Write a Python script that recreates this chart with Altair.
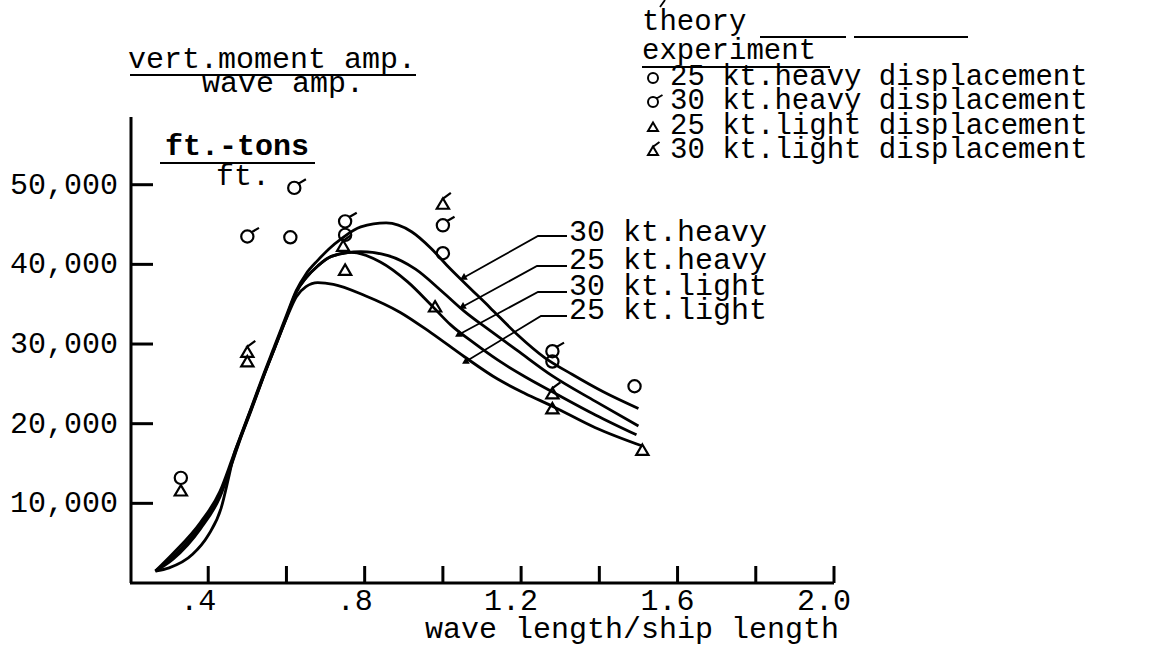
import altair as alt
import pandas as pd

# ---------------- data ----------------
# theory curves (wave length / ship length, vert. moment amp / wave amp in ft.-tons/ft.)
c30h_x = [0.265, 0.31, 0.38, 0.43, 0.46, 0.48, 0.51, 0.54, 0.57, 0.60, 0.625, 0.65, 0.68, 0.71, 0.74, 0.79, 0.855, 0.92, 0.97, 1.01, 1.055, 1.12, 1.19, 1.26, 1.33, 1.41, 1.50]
c30h_y = [1500, 3700, 7600, 11500, 15400, 18100, 22000, 26000, 29800, 33600, 36700, 38800, 40500, 42000, 43200, 44700, 45200, 44100, 42000, 39900, 37700, 34600, 31200, 28300, 26200, 24000, 21900]

c25h_x = [0.265, 0.31, 0.38, 0.43, 0.46, 0.48, 0.51, 0.54, 0.57, 0.60, 0.625, 0.65, 0.68, 0.715, 0.79, 0.86, 0.93, 1.0, 1.055, 1.12, 1.19, 1.28, 1.39, 1.50]
c25h_y = [1500, 3300, 7200, 11200, 15100, 17900, 21800, 25800, 29600, 33400, 36500, 38300, 39800, 41000, 41600, 41100, 39400, 36500, 34100, 31700, 29200, 26000, 22800, 19700]

c30l_x = [0.265, 0.31, 0.38, 0.43, 0.46, 0.48, 0.51, 0.54, 0.57, 0.60, 0.625, 0.65, 0.68, 0.715, 0.766, 0.84, 0.91, 0.97, 1.02, 1.08, 1.14, 1.21, 1.28, 1.39, 1.495]
c30l_y = [1500, 3000, 6800, 10800, 14900, 17800, 21700, 25700, 29500, 33300, 36500, 38300, 39800, 41000, 41500, 40300, 37800, 34900, 32400, 30100, 28000, 25900, 24000, 21100, 18600]

c25l_x = [0.265, 0.30, 0.36, 0.40, 0.433, 0.452, 0.465, 0.48, 0.51, 0.54, 0.57, 0.60, 0.625, 0.65, 0.68, 0.72, 0.80, 0.89, 0.97, 1.055, 1.14, 1.21, 1.28, 1.39, 1.51]
c25l_y = [1500, 1900, 3600, 6000, 9400, 13200, 16000, 18000, 21900, 25800, 29500, 33200, 35900, 37200, 37700, 37500, 36100, 34000, 31400, 28400, 25600, 23800, 22200, 19500, 17200]

theory_names = ["30 kt.heavy", "25 kt.heavy", "30 kt.light", "25 kt.light"]

# experiment points
e25h_x = [0.33, 0.61, 0.75, 1.0, 1.28, 1.49]
e25h_y = [13200, 43400, 43700, 41400, 27800, 24700]
e30h_x = [0.50, 0.62, 0.75, 1.0, 1.28]
e30h_y = [43500, 49600, 45400, 44900, 29100]
e25l_x = [0.33, 0.50, 0.75, 0.98, 1.28, 1.51]
e25l_y = [11600, 27800, 39300, 34700, 21900, 16700]
e30l_x = [0.50, 0.745, 1.0, 1.28]
e30l_y = [29000, 42300, 47600, 23800]

exp_names = ["25 kt.heavy displacement", "30 kt.heavy displacement",
             "25 kt.light displacement", "30 kt.light displacement"]

# axes
x_ticks = [0.4, 0.6, 0.8, 1.0, 1.2, 1.4, 1.6, 1.8, 2.0]
x_label_vals = [0.4, 0.8, 1.2, 1.6, 2.0]
x_label_text = [".4", ".8", "1.2", "1.6", "2.0"]
y_ticks = [10000, 20000, 30000, 40000, 50000]
y_label_text = ["10,000", "20,000", "30,000", "40,000", "50,000"]

# ---------------- layout ----------------
W, H = 704, 466
FONT = "Liberation Mono"
FS = 30
xs = alt.Scale(domain=[0.2, 2.0], nice=False, zero=False)
ys = alt.Scale(domain=[0, 58500], nice=False, zero=False)

SIGMA = "M-1,0A1,1,0,1,0,1,0A1,1,0,1,0,-1,0M0.7,-0.7L1.9,-1.4"
TRI = "M0,-0.9L1,0.8L-1,0.8Z"
TRI_TAIL = "M0,-0.9L1,0.8L-1,0.8ZM-0.2,-0.7L1.3,-1.8"
shape_scale = alt.Scale(domain=exp_names, range=["circle", SIGMA, TRI, TRI_TAIL])

rows = []
for name, cx, cy in zip(theory_names, [c30h_x, c25h_x, c30l_x, c25l_x], [c30h_y, c25h_y, c30l_y, c25l_y]):
    for i, (a, b) in enumerate(zip(cx, cy)):
        rows.append({"series": name, "x": a, "y": b, "o": i})
curves_df = pd.DataFrame(rows)

prow = []
for name, ex, ey in zip(exp_names, [e25h_x, e30h_x, e25l_x, e30l_x], [e25h_y, e30h_y, e25l_y, e30l_y]):
    for a, b in zip(ex, ey):
        prow.append({"series": name, "x": a, "y": b})
exp_df = pd.DataFrame(prow)

curves = alt.Chart(curves_df).mark_line(interpolate="monotone", color="black", strokeWidth=2.8).encode(
    x=alt.X("x:Q", scale=xs, axis=None),
    y=alt.Y("y:Q", scale=ys, axis=None),
    detail="series:N",
    order="o:Q",
)

points = alt.Chart(exp_df).mark_point(filled=False, color="black", strokeWidth=2.2, size=150, opacity=1).encode(
    x=alt.X("x:Q", scale=xs, axis=None),
    y=alt.Y("y:Q", scale=ys, axis=None),
    shape=alt.Shape("series:N", scale=shape_scale, legend=None),
)

# axis lines
yaxis_line = alt.Chart().mark_rule(color="black", strokeWidth=3).encode(
    x=alt.value(1), y=alt.value(0), y2=alt.value(H))
xaxis_line = alt.Chart().mark_rule(color="black", strokeWidth=3).encode(
    x=alt.value(0), x2=alt.value(W), y=alt.value(H))

xt = alt.Chart(pd.DataFrame({"x": x_ticks})).mark_rule(color="black", strokeWidth=3).encode(
    x=alt.X("x:Q", scale=xs, axis=None), y=alt.value(H - 17), y2=alt.value(H))
xl = alt.Chart(pd.DataFrame({"x": x_label_vals, "t": x_label_text})).mark_text(
    font=FONT, fontSize=FS, align="center", baseline="alphabetic", dx=-10, color="black").encode(
    x=alt.X("x:Q", scale=xs, axis=None), y=alt.value(H + 27), text="t:N")
x_title = alt.Chart().mark_text(font=FONT, fontSize=FS, align="center", baseline="alphabetic",
                                color="black", text="wave length/ship length").encode(
    x=alt.value(502), y=alt.value(H + 55))

yt = alt.Chart(pd.DataFrame({"y": y_ticks})).mark_rule(color="black", strokeWidth=3).encode(
    y=alt.Y("y:Q", scale=ys, axis=None), x=alt.value(2), x2=alt.value(23))
yl = alt.Chart(pd.DataFrame({"y": y_ticks, "t": y_label_text})).mark_text(
    font=FONT, fontSize=FS, align="right", baseline="middle", color="black").encode(
    y=alt.Y("y:Q", scale=ys, axis=None), x=alt.value(-12), text="t:N")

# annotation text (pixel positions relative to plot origin)
def text_layer(items, align="left", weight="normal", size=FS):
    df = pd.DataFrame(items, columns=["t", "px", "py"])
    return alt.Chart(df).mark_text(font=FONT, fontSize=size, align=align, baseline="alphabetic",
                                   fontWeight=weight, color="black").encode(
        x=alt.X("px:Q", scale=None), y=alt.Y("py:Q", scale=None), text="t:N")

titles = text_layer([("vert.moment amp.", 142, -49), ("wave amp.", 153, -25), ("ft.", 113, 68)], align="center")
unit_bold = text_layer([("ft.-tons", 107, 38)], align="center", weight="bold")
legend_txt = text_layer([("theory", 512, -87), ("experiment", 512, -58)] +
                        [(n, 540, b) for n, b in zip(exp_names, [-32, -8, 17, 41])], size=29)
curve_lbl = text_layer([(n, 439, b) for n, b in zip(theory_names, [124, 152, 178, 202])])

leg_sym = alt.Chart(pd.DataFrame({"series": exp_names, "px": [523] * 4, "py": [-39, -15, 10, 34]})).mark_point(
    filled=False, color="black", strokeWidth=2, size=100, opacity=1).encode(
    x=alt.X("px:Q", scale=None), y=alt.Y("py:Q", scale=None),
    shape=alt.Shape("series:N", scale=shape_scale, legend=None))

# straight annotation strokes: underlines, legend line, leaders
seg = []
def add(name, pts):
    for i, (a, b) in enumerate(pts):
        seg.append({"g": name, "o": i, "px": a, "py": b})
add("u_title", [(0, -42), (286, -42)])
add("u_unit", [(30, 46), (185, 46)])
add("u_exp", [(512, -50), (700, -50)])
add("theory1", [(630, -80), (716, -80)])
add("theory2", [(724, -80), (838, -80)])
add("prime", [(530, -110), (535, -117)])
add("L1", [(333, 161), (408, 119), (437, 119)])
add("L2", [(332, 190), (407, 149), (437, 149)])
add("L3", [(328, 218), (408, 175), (437, 175)])
add("L4", [(335, 245), (411, 199), (437, 199)])
segs = alt.Chart(pd.DataFrame(seg)).mark_line(color="black", strokeWidth=1.8).encode(
    x=alt.X("px:Q", scale=None), y=alt.Y("py:Q", scale=None), detail="g:N", order="o:Q")

heads = alt.Chart(pd.DataFrame({"px": [333, 332, 328, 335], "py": [161, 190, 218, 245]})).mark_point(
    shape="triangle-right", angle=151, filled=True, color="black", size=60, opacity=1).encode(
    x=alt.X("px:Q", scale=None), y=alt.Y("py:Q", scale=None))

chart = alt.layer(
    curves, points, yaxis_line, xaxis_line, xt, xl, x_title, yt, yl,
    titles, unit_bold, legend_txt, curve_lbl, leg_sym, segs, heads
).resolve_scale(x="independent", y="independent").properties(
    width=W, height=H,
    padding={"left": 130, "top": 117, "right": 326, "bottom": 64},
    autosize=alt.AutoSizeParams(type="none"),
    background="white",
).configure_view(stroke=None)

chart.save("out.html", embed_options={"renderer": "svg", "actions": False})
